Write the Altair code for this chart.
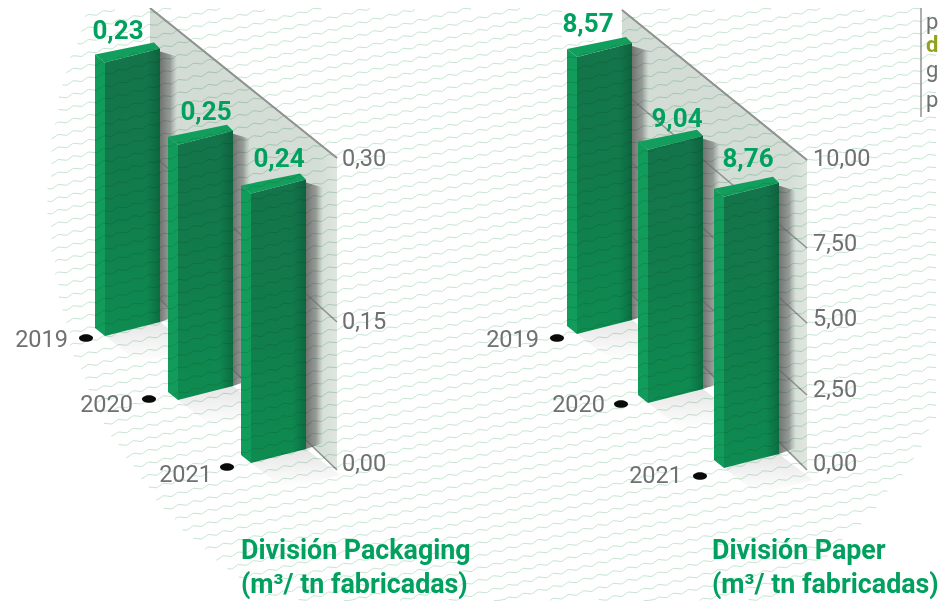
import altair as alt
import pandas as pd

alt.data_transformers.disable_max_rows()

# ---------- values ----------
years = ["2019", "2020", "2021"]
packaging_labels = [0.23, 0.25, 0.24]
paper_labels = [8.57, 9.04, 8.76]
# bar heights as read against each wall's scale (the drawing is not proportional to its labels)
packaging_drawn = [0.269, 0.251, 0.265]
paper_drawn = [9.08, 8.30, 8.89]
packaging_ticks = [0.00, 0.15, 0.30]
paper_ticks = [0.00, 2.50, 5.00, 7.50, 10.00]
panel_titles = [["División Packaging", "(m³/ tn fabricadas)"], ["División Paper", "(m³/ tn fabricadas)"]]
wave_unit = [0.0, -1.3, 0.0, 1.3]
side_letters = ["p", "d", "g", "p"]

# ---------- layout (page pixels) ----------
W, H = 939, 601
M = 8
FONT = "Roboto"
PANELS = [
    dict(labels=packaging_labels, drawn=packaging_drawn, ticks=packaging_ticks, pxunit=1017.0, dec=2,
         wall_x=(150, 337), wall_top=(8, 158), grid_back=[290, 152, 8], grid_front=[470, 322, 158],
         tick_x=342, tick_y=[464, 322, 159],
         bars=[(95, 336), (168, 400), (241, 463)],
         label_xy=[(118, 31), (206, 112), (279, 159)],
         dots=[(86, 338), (149, 399), (227, 467)], year_xy=[(68, 340), (133, 405), (212, 475)],
         title_x=241),
    dict(labels=paper_labels, drawn=paper_drawn, ticks=paper_ticks, pxunit=30.5, dec=2,
         wall_x=(622, 807), wall_top=(10, 160), grid_back=[285, 228, 154, 91, 10], grid_front=[470, 395, 323, 248, 160],
         tick_x=813, tick_y=[464, 390, 319, 244, 159],
         bars=[(567, 334), (638, 403), (714, 468)],
         label_xy=[(588, 24), (677, 119), (748, 159)],
         dots=[(557, 338), (621, 404), (700, 476)], year_xy=[(539, 340), (605, 405), (682, 476)],
         title_x=712),
]
SIDE_W, FRONT_W, DX, DY_F, DY_B = 10, 55, 6, 14, 8
CIRCLE = (519, 200, 472)

xs = alt.Scale(domain=[M, W], nice=False, zero=False)
ys = alt.Scale(domain=[H, M], nice=False, zero=False)
X = alt.X("x:Q", scale=xs, axis=None)
Y = alt.Y("y:Q", scale=ys, axis=None)


def poly_rows(poly, pid):
    """Turn a convex polygon into area rows (x, y, y2) that the x and y scales draw."""
    out = []
    for x in sorted({p[0] for p in poly}):
        hits = []
        n = len(poly)
        for i in range(n):
            (x1, y1), (x2, y2) = poly[i], poly[(i + 1) % n]
            if min(x1, x2) <= x <= max(x1, x2):
                if x1 == x2:
                    hits += [y1, y2]
                else:
                    hits.append(y1 + (x - x1) / (x2 - x1) * (y2 - y1))
        out.append(dict(x=x, y=min(hits), y2=max(hits), id=pid))
    return out


def area_layer(polys, fill, opacity=1.0):
    rows = []
    for i, p in enumerate(polys):
        rows += poly_rows(p, i)
    return alt.Chart(pd.DataFrame(rows)).mark_area(color=fill, opacity=opacity, interpolate="linear").encode(
        x=X, y=Y, y2="y2:Q", detail="id:N")


def grad(stops, horizontal=False):
    return alt.Gradient(gradient="linear",
                        stops=[alt.GradientStop(color=c, offset=o) for o, c in stops],
                        x1=0, y1=0, x2=1 if horizontal else 0, y2=0 if horizontal else 1)


def text_layer(rows, size, color, bold=False, align="left"):
    return alt.Chart(pd.DataFrame(rows)).mark_text(
        font=FONT, fontSize=size, color=color,
        fontWeight="bold" if bold else "normal", align=align, baseline="middle").encode(
        x=X, y=Y, text="t:N")


layers = []
walls, wall_lines, top_lines = [], [], []
floor_sh, wall_sh, sides, tops, fronts = [], [], [], [], []
for p in PANELS:
    x0, x1 = p["wall_x"]
    walls.append([(x0, p["wall_top"][0]), (x1, p["wall_top"][1]), (x1, p["grid_front"][0]), (x0, p["grid_back"][0])])
    for b, f in zip(p["grid_back"], p["grid_front"]):
        wall_lines.append([(x0, b), (x1, f)])
    for (bx, by), drawn in zip(p["bars"], p["drawn"]):
        h = drawn * p["pxunit"]
        fl, fr = bx + SIDE_W, bx + SIDE_W + FRONT_W
        top_f = by - h
        floor_sh.append([(fl, by), (fr, by - DY_F), (fr + 34, by + 12), (fl + 34, by + 26)])
        wall_sh.append([(fr, top_f - DY_F + 3), (fr + 17, top_f - DY_F + 8), (fr + 17, by - DY_F - 6), (fr, by - DY_F)])
        sides.append([(bx, top_f - DY_B), (fl, top_f), (fl, by), (bx, by - DY_B)])
        tops.append([(bx, top_f - DY_B), (fr - DX, top_f - DY_F - 6), (fr, top_f - DY_F), (fl, top_f)])
        fronts.append([(fl, top_f), (fr, top_f - DY_F), (fr, by - DY_F), (fl, by)])

layers.append(area_layer(walls, grad([(0, "#d2dcd5"), (0.9, "#d4ddd6"), (1, "#dfe6e0")], True)))

grid_df = pd.DataFrame([dict(x=x, y=y, id=i) for i, l in enumerate(wall_lines) for x, y in l])
layers.append(alt.Chart(grid_df).mark_line(color="#8f9490", strokeWidth=1.6).encode(x=X, y=Y, detail="id:N"))
layers.append(area_layer(floor_sh, grad([(0, "rgba(110,110,110,0.18)"), (1, "rgba(130,130,130,0)")])))

for i in [0, 1, 2, 3, 4, 5]:
    # painter's order: back to front, per panel, with each bar's cast shadow first
    layers.append(area_layer([wall_sh[i]], grad([(0, "rgba(95,97,95,0.85)"), (0.6, "rgba(110,112,110,0.6)"), (1, "rgba(140,145,140,0)")], True)))
    layers.append(area_layer([sides[i]], "#119c5b"))
    layers.append(area_layer([fronts[i]], grad([(0, "#14734a"), (0.5, "#117c4c"), (1, "#0e8c51")])))
    layers.append(area_layer([fronts[i]], grad([(0, "rgba(10,90,60,0)"), (0.75, "rgba(10,90,60,0)"), (1, "rgba(8,85,50,0.55)")], True)))
    layers.append(area_layer([tops[i]], "#129f5d"))

# wave texture, repeating the unit, limited to the big circle
cx, cy, r = CIRCLE
rows = []
for k in range(-8, 59):
    i = 0
    x = 40.0
    while x <= W:
        y = 28 + 12.5 * k - 0.25 * (x - 340) + wave_unit[i % len(wave_unit)]
        if (x - cx) ** 2 + (y - cy) ** 2 <= r ** 2 and M <= y <= H and x >= M:
            rows.append(dict(x=round(x, 2), y=round(y, 2), id=k))
        x += 3.75
        i += 1
wave_df = pd.DataFrame(rows)
layers.append(alt.Chart(wave_df).mark_line(color="#c4e3cf", strokeWidth=1, interpolate="monotone", blend="multiply").encode(
    x=X, y=Y, detail="id:N"))

# white plate behind the first Paper label
layers.append(area_layer([[(562, 8), (621, 8), (621, 36), (562, 44)]], "#ffffff"))

# wall top edges
top_df = pd.DataFrame([dict(x=v, y=w, id=i) for i, p in enumerate(PANELS)
                       for v, w in zip(p["wall_x"], p["wall_top"])])
layers.append(alt.Chart(top_df).mark_line(color="#8f9490", strokeWidth=1.8).encode(x=X, y=Y, detail="id:N"))

dot_rows = [dict(x=x, y=y) for p in PANELS for x, y in p["dots"]]
layers.append(alt.Chart(pd.DataFrame(dot_rows)).mark_point(
    shape="M-1,0A1,0.55 0 1,1 1,0A1,0.55 0 1,1 -1,0Z", size=196, filled=True, color="#0a0a0a", opacity=1).encode(x=X, y=Y))

GREY = "#6f7072"
GREEN = "#00a05e"
tick_rows, year_rows, value_rows, title_rows = [], [], [], []
for p in PANELS:
    for t, y in zip(p["ticks"], p["tick_y"]):
        tick_rows.append(dict(x=p["tick_x"], y=y, t=f"{t:.2f}".replace(".", ",")))
    for yr, (x, y) in zip(years, p["year_xy"]):
        year_rows.append(dict(x=x, y=y, t=yr))
    for v, (x, y) in zip(p["labels"], p["label_xy"]):
        value_rows.append(dict(x=x, y=y, t=f"{v:.2f}".replace(".", ",")))
for p, tt in zip(PANELS, panel_titles):
    title_rows.append(dict(x=p["title_x"], y=551, t=tt[0]))
    title_rows.append(dict(x=p["title_x"], y=585, t=tt[1]))

layers.append(text_layer(tick_rows, 23.5, GREY))
layers.append(text_layer(year_rows, 23.5, GREY, align="right"))
layers.append(text_layer(value_rows, 26, GREEN, bold=True, align="center"))
layers.append(text_layer(title_rows, 26.8, GREEN, bold=True))

# corner note, kept inside the drawable page
rule_df = pd.DataFrame([dict(x=921, y=M), dict(x=921, y=117)])
layers.append(alt.Chart(rule_df).mark_line(color="#8c8c8c", strokeWidth=1.4).encode(x=X, y=Y))
note_y = [22, 45, 70, 100]
layers.append(text_layer([dict(x=926, y=note_y[i], t=side_letters[i]) for i in (0, 2, 3)], 22, GREY))
layers.append(text_layer([dict(x=926, y=note_y[1], t=side_letters[1])], 22, "#93a31f", bold=True))

chart = alt.layer(*layers).properties(
    width=W - M, height=H - M, padding=0,
    autosize=alt.AutoSizeParams(type="none", contains="padding"),
    background="#ffffff",
).configure_view(stroke=None)

chart.save("out.html", embed_options={"renderer": "svg", "actions": False})
